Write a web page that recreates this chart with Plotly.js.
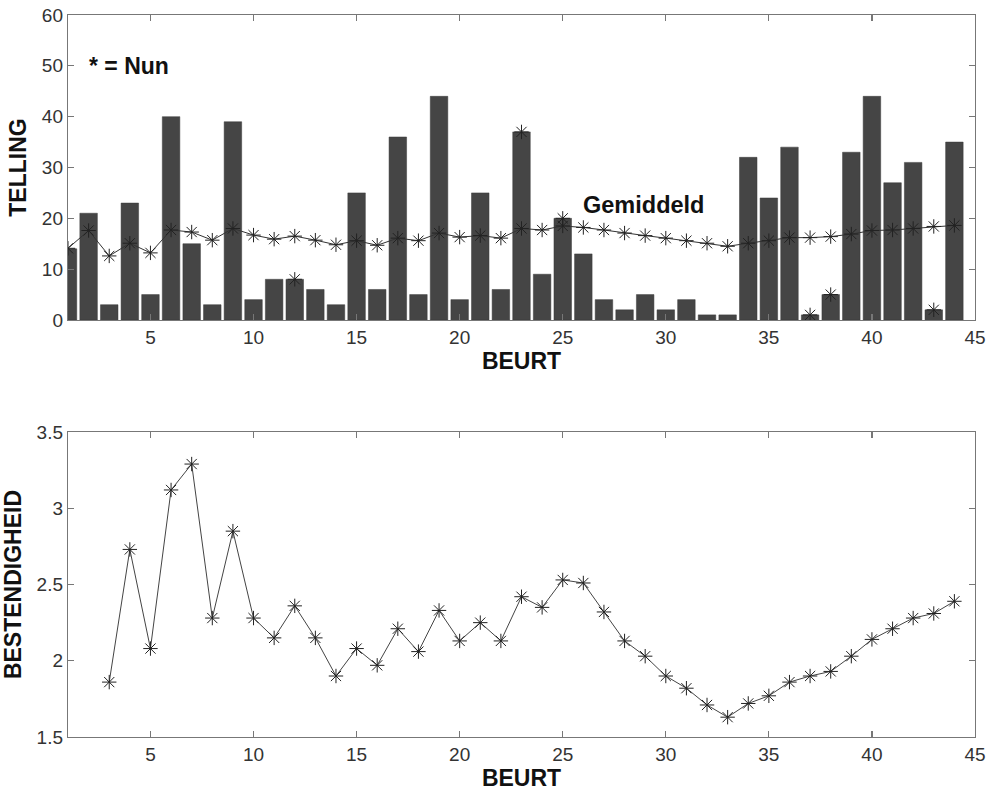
<!DOCTYPE html>
<html>
<head>
<meta charset="utf-8">
<script src="https://cdn.plot.ly/plotly-3.0.1.min.js"></script>
<style>html,body{margin:0;padding:0;background:#fff;}#chart{width:993px;height:795px;}</style>
</head>
<body>
<div id="chart"></div>
<script>
// Top chart: counts per turn
const beurt = [1,2,3,4,5,6,7,8,9,10,11,12,13,14,15,16,17,18,19,20,21,22,23,24,25,26,27,28,29,30,31,32,33,34,35,36,37,38,39,40,41,42,43,44];
const telling = [14,21,3,23,5,40,15,3,39,4,8,8,6,3,25,6,36,5,44,4,25,6,37,9,20,13,4,2,5,2,4,1,1,32,24,34,1,5,33,44,27,31,2,35];
const gemiddeld = [14.1,17.6,12.6,15.1,13.2,17.7,17.3,15.7,18.0,16.7,15.9,16.5,15.7,14.8,15.6,14.7,16.1,15.6,17.1,16.3,16.6,16.1,18.0,17.7,18.5,18.2,17.7,17.1,16.6,16.1,15.6,15.1,14.5,15.1,15.6,16.2,16.2,16.4,16.9,17.6,17.7,18.0,18.4,18.6];
// Turns marked "Nun"
const nunBeurt = [12,23,25,37,38,43];
const nunTelling = [8,37,20,1,5,2];
// Bottom chart: consistency
const beurt2 = [3,4,5,6,7,8,9,10,11,12,13,14,15,16,17,18,19,20,21,22,23,24,25,26,27,28,29,30,31,32,33,34,35,36,37,38,39,40,41,42,43,44];
const bestendigheid = [1.86,2.73,2.08,3.12,3.29,2.28,2.85,2.28,2.15,2.36,2.15,1.90,2.08,1.97,2.21,2.06,2.33,2.13,2.25,2.13,2.42,2.35,2.53,2.51,2.32,2.13,2.03,1.90,1.82,1.71,1.63,1.72,1.77,1.86,1.90,1.93,2.03,2.14,2.21,2.28,2.31,2.39];

const FONT = 'Liberation Sans, Arial, sans-serif';
const tickFont = {family: FONT, size: 19, color: '#333'};
const titleFont = {family: FONT, size: 23, color: '#111', weight: 'bold'};

const traces = [
  {type: 'bar', x: beurt, y: telling, xaxis: 'x', yaxis: 'y',
   marker: {color: '#454545', line: {color: '#3a3a3a', width: 0.5}}, hoverinfo: 'x+y'},
  {type: 'scatter', mode: 'lines+markers', x: beurt, y: gemiddeld, xaxis: 'x', yaxis: 'y',
   line: {color: '#333', width: 1},
   marker: {symbol: 'asterisk-open', size: 12, color: '#222', line: {color: '#222', width: 1}}},
  {type: 'scatter', mode: 'markers', x: nunBeurt, y: nunTelling, xaxis: 'x', yaxis: 'y',
   marker: {symbol: 'asterisk-open', size: 12, color: '#222', line: {color: '#222', width: 1}}},
  {type: 'scatter', mode: 'lines+markers', x: beurt2, y: bestendigheid, xaxis: 'x2', yaxis: 'y2',
   line: {color: '#444', width: 1},
   marker: {symbol: 'asterisk-open', size: 12, color: '#222', line: {color: '#222', width: 1}}}
];

const axisCommon = {
  showgrid: false, zeroline: false, showline: true, linecolor: '#777', linewidth: 1.2,
  mirror: 'ticks', ticks: 'inside', ticklen: 6, tickcolor: '#777', tickwidth: 1.2,
  tickfont: tickFont
};

const layout = {
  width: 993, height: 795,
  margin: {l: 68, r: 18, t: 15, b: 58},
  paper_bgcolor: '#fff', plot_bgcolor: '#fff',
  showlegend: false,
  bargap: 0.15,
  xaxis: Object.assign({}, axisCommon, {domain: [0, 1], anchor: 'y', range: [1, 45], tick0: 0, dtick: 5,
    title: {text: 'BEURT', font: titleFont, standoff: 4}}),
  yaxis: Object.assign({}, axisCommon, {domain: [0.5776, 1], anchor: 'x', range: [0, 60], dtick: 10,
    title: {text: 'TELLING', font: titleFont, standoff: 8}}),
  xaxis2: Object.assign({}, axisCommon, {domain: [0, 1], anchor: 'y2', range: [1, 45], tick0: 0, dtick: 5,
    title: {text: 'BEURT', font: titleFont, standoff: 4}}),
  yaxis2: Object.assign({}, axisCommon, {domain: [0, 0.4224], anchor: 'x2', range: [1.5, 3.5], dtick: 0.5,
    title: {text: 'BESTENDIGHEID', font: titleFont, standoff: 8}}),
  annotations: [
    {xref: 'x', yref: 'y', x: 1.9, y: 50, xanchor: 'left', yanchor: 'middle', showarrow: false,
     text: '<b>* = Nun</b>', font: {family: FONT, size: 23, color: '#111'}},
    {xref: 'x', yref: 'y', x: 25.9, y: 22.6, xanchor: 'left', yanchor: 'middle', showarrow: false,
     text: '<b>Gemiddeld</b>', font: {family: FONT, size: 23.5, color: '#111'}}
  ]
};

Plotly.newPlot('chart', traces, layout, {displayModeBar: false, staticPlot: true});
</script>
</body>
</html>
